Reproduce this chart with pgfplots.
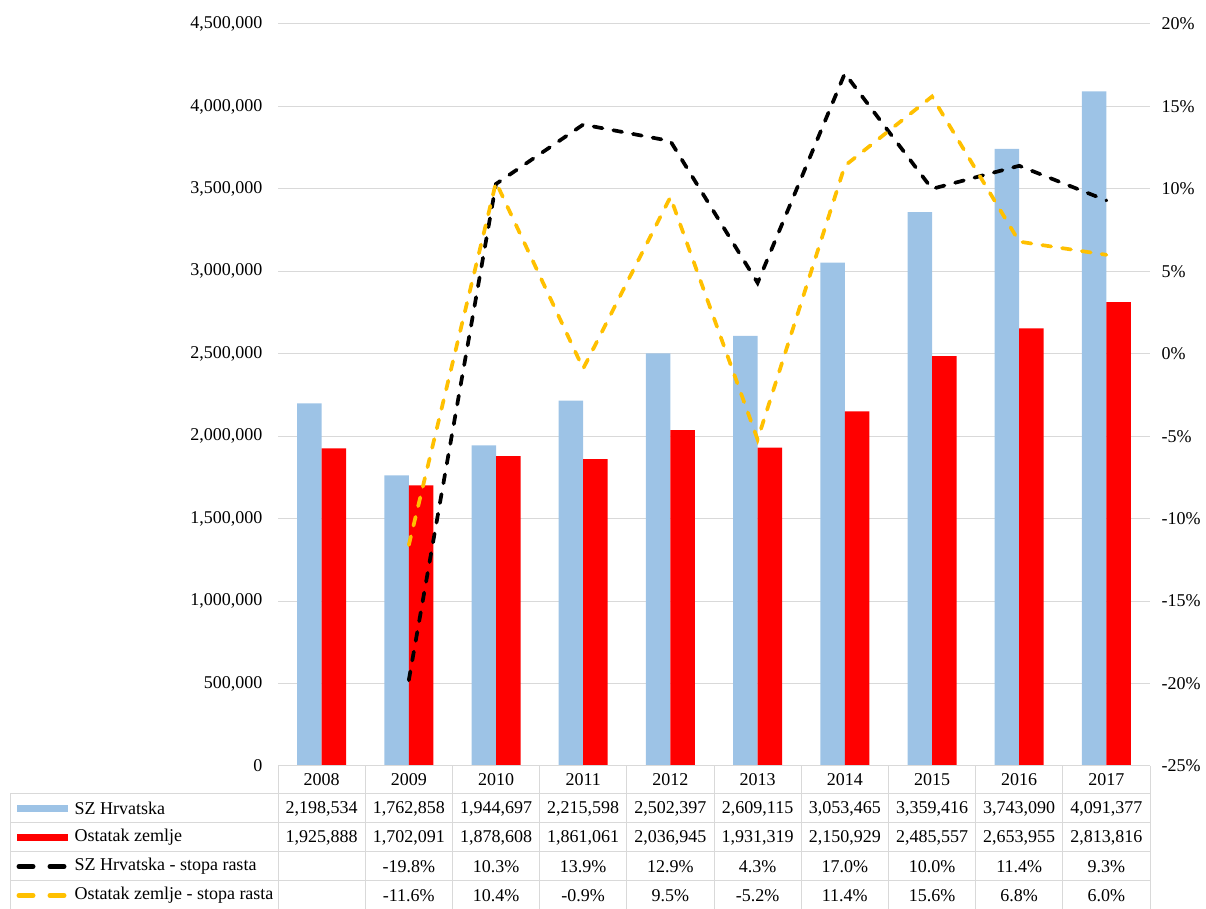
\documentclass[border=0pt]{standalone}
\usepackage{fontspec}
\setmainfont{Liberation Serif}
\usepackage{pgfplots}
\pgfplotsset{compat=1.18}
\definecolor{szblue}{RGB}{157,195,230}
\definecolor{ostred}{RGB}{255,0,0}
\definecolor{orangel}{RGB}{255,192,0}
\definecolor{gridc}{RGB}{217,217,217}
\begin{document}
\begin{tikzpicture}[x=1pt,y=1pt,font=\fontsize{18}{21}\selectfont]
\path[use as bounding box] (0,0) rectangle (1206,909);
\begin{axis}[at={(278pt,143pt)}, anchor=south west, scale only axis,
  width=872pt, height=742pt,
  xmin=-0.5, xmax=9.5, ymin=0, ymax=4500000,
  ytick={0,500000,1000000,1500000,2000000,2500000,3000000,3500000,4000000,4500000},
  xtick=\empty, ymajorgrids, grid style={gridc, line width=1pt},
  axis line style={draw=none}, major tick length=0pt,
  scaled y ticks=false,
  yticklabel style={/pgf/number format/fixed, /pgf/number format/precision=0,
    /pgf/number format/1000 sep={,}, /pgf/number format/assume math mode=true,
    xshift=-12pt},
  ybar=0pt, bar width=24.5pt,
  clip=false]
\addplot[fill=szblue, draw=none] coordinates {(0,2198534)(1,1762858)(2,1944697)(3,2215598)(4,2502397)(5,2609115)(6,3053465)(7,3359416)(8,3743090)(9,4091377)};
\addplot[fill=ostred, draw=none] coordinates {(0,1925888)(1,1702091)(2,1878608)(3,1861061)(4,2036945)(5,1931319)(6,2150929)(7,2485557)(8,2653955)(9,2813816)};
\end{axis}
\begin{axis}[at={(278pt,143pt)}, anchor=south west, scale only axis,
  width=872pt, height=742pt,
  xmin=-0.5, xmax=9.5, ymin=-25, ymax=20,
  ytick={-25,-20,-15,-10,-5,0,5,10,15,20},
  yticklabel pos=right, xtick=\empty,
  axis line style={draw=none}, major tick length=0pt,
  yticklabel={\pgfmathprintnumber{\tick}\%},
  yticklabel style={/pgf/number format/assume math mode=true, xshift=8pt},
  clip=false]
\addplot[black, line width=3.7pt, dash pattern=on 9pt off 11pt, line cap=round] coordinates {(1,-19.8)(2,10.3)(3,13.9)(4,12.9)(5,4.3)(6,17.0)(7,10.0)(8,11.4)(9,9.3)};
\addplot[orangel, line width=3.7pt, dash pattern=on 9pt off 11pt, line cap=round] coordinates {(1,-11.6)(2,10.4)(3,-0.9)(4,9.5)(5,-5.2)(6,11.4)(7,15.6)(8,6.8)(9,6.0)};
\end{axis}
% data table
\begin{scope}[draw=gridc, line width=1pt]
\draw (278,143) -- (1150,143);
\foreach \k in {0,...,10} {\draw ({278+87.2*\k},143) -- ({278+87.2*\k},-2);}
\draw (10,115) -- (10,-2);
\foreach \yy in {115,86,57,28} {\draw (10,\yy) -- (1150,\yy);}
\end{scope}
\foreach \yr [count=\i from 0] in {2008,2009,2010,2011,2012,2013,2014,2015,2016,2017}
  {\node at ({321.6+87.2*\i},129) {\yr};}
\foreach \v [count=\i from 0] in {2{,}198{,}534,1{,}762{,}858,1{,}944{,}697,2{,}215{,}598,2{,}502{,}397,2{,}609{,}115,3{,}053{,}465,3{,}359{,}416,3{,}743{,}090,4{,}091{,}377}
  {\node at ({321.6+87.2*\i},100.5) {\v};}
\foreach \v [count=\i from 0] in {1{,}925{,}888,1{,}702{,}091,1{,}878{,}608,1{,}861{,}061,2{,}036{,}945,1{,}931{,}319,2{,}150{,}929,2{,}485{,}557,2{,}653{,}955,2{,}813{,}816}
  {\node at ({321.6+87.2*\i},71.5) {\v};}
\foreach \v [count=\i from 1] in {-19.8\%,10.3\%,13.9\%,12.9\%,4.3\%,17.0\%,10.0\%,11.4\%,9.3\%}
  {\node at ({321.6+87.2*\i},42.5) {\v};}
\foreach \v [count=\i from 1] in {-11.6\%,10.4\%,-0.9\%,9.5\%,-5.2\%,11.4\%,15.6\%,6.8\%,6.0\%}
  {\node at ({321.6+87.2*\i},13.5) {\v};}
% legend keys
\fill[szblue] (17,97) rectangle (68,104);
\fill[ostred] (17,68) rectangle (68,75);
\draw[black, line width=5pt, line cap=round] (19,42.5) -- (33,42.5) (50,42.5) -- (64,42.5);
\draw[orangel, line width=5pt, line cap=round] (19,13.5) -- (33,13.5) (50,13.5) -- (64,13.5);
\node[anchor=west] at (71,100.5) {SZ Hrvatska};
\node[anchor=west] at (71,71.5) {Ostatak zemlje};
\node[anchor=west] at (71,42.5) {SZ Hrvatska - stopa rasta};
\node[anchor=west] at (71,13.5) {Ostatak zemlje - stopa rasta};
\end{tikzpicture}
\end{document}
